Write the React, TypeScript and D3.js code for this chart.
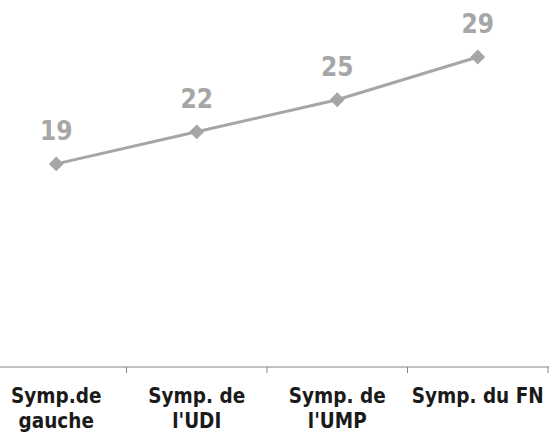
import { useEffect, useRef } from 'react';
import * as d3 from 'd3';

const categories = ['Symp.de\ngauche', "Symp. de\nl'UDI", "Symp. de\nl'UMP", 'Symp. du FN'];
const values = [19, 22, 25, 29];

const WIDTH = 549;
const HEIGHT = 434;
const FONT = '"DejaVu Sans Condensed", "DejaVu Sans", sans-serif';

const App: React.FC = () => {
	const svgRef = useRef<SVGSVGElement>(null);

	useEffect(() => {
		if (!svgRef.current) return;
		const svg = d3.select(svgRef.current);
		svg.selectAll('*').remove();

		const axisY = 367;

		const x = d3.scaleBand<string>().domain(categories).range([-14, 548]);
		const y = d3.scaleLinear().domain([0, 29]).range([axisY, 57]);

		const cx = (c: string) => (x(c) ?? 0) + x.bandwidth() / 2;

		// axis line + ticks at band boundaries
		svg.append('line')
			.attr('x1', 0)
			.attr('x2', WIDTH)
			.attr('y1', axisY)
			.attr('y2', axisY)
			.attr('stroke', '#868686')
			.attr('stroke-width', 1);

		categories.forEach((c) => {
			const tx = (x(c) ?? 0) + x.bandwidth();
			svg.append('line')
				.attr('x1', tx)
				.attr('x2', tx)
				.attr('y1', axisY)
				.attr('y2', axisY + 6)
				.attr('stroke', '#868686')
				.attr('stroke-width', 1);
		});

		// category labels
		categories.forEach((c) => {
			const lines = c.split('\n');
			const t = svg
				.append('text')
				.attr('text-anchor', 'middle')
				.style('font-family', FONT)
				.style('font-weight', 'bold')
				.style('font-size', '20.5px')
				.style('fill', '#1a1a1a');
			lines.forEach((l, i) => {
				t.append('tspan')
					.attr('x', cx(c))
					.attr('y', 403 + i * 25)
					.text(l);
			});
		});

		const data = categories.map((c, i) => ({ c, v: values[i] }));

		const line = d3
			.line<{ c: string; v: number }>()
			.x((d) => cx(d.c))
			.y((d) => y(d.v));

		svg.append('path')
			.datum(data)
			.attr('d', line)
			.attr('fill', 'none')
			.attr('stroke', '#a6a6a6')
			.attr('stroke-width', 3);

		const diamond = d3.symbol().type(d3.symbolSquare).size(110);

		svg.selectAll('.marker')
			.data(data)
			.enter()
			.append('path')
			.attr('d', diamond)
			.attr('transform', (d) => `translate(${cx(d.c)},${y(d.v)}) rotate(45)`)
			.attr('fill', '#a6a6a6');

		svg.selectAll('.val')
			.data(data)
			.enter()
			.append('text')
			.attr('x', (d) => cx(d.c))
			.attr('y', (d) => y(d.v) - 24)
			.attr('text-anchor', 'middle')
			.style('font-family', FONT)
			.style('font-weight', 'bold')
			.style('font-size', '26px')
			.style('fill', '#a6a6a6')
			.text((d) => d.v);
	}, []);

	return (
		<svg
			ref={svgRef}
			width={WIDTH}
			height={HEIGHT}
			style={{ position: 'absolute', left: 0, top: 0, background: '#fff' }}
		></svg>
	);
};

export default App;
